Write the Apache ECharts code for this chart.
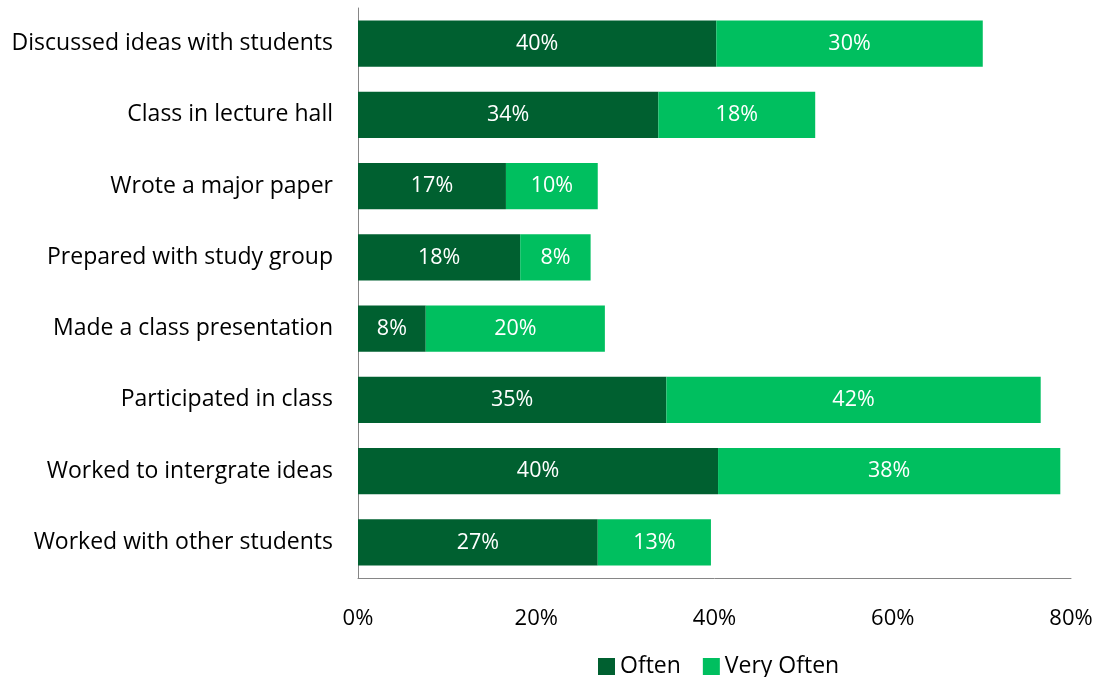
<!DOCTYPE html>
<html>
<head>
<meta charset="utf-8">
<script src="https://cdn.jsdelivr.net/npm/echarts@6/dist/echarts.min.js"></script>
<style>html,body{margin:0;padding:0;background:#fff}#c{width:1105px;height:677px}</style>
</head>
<body>
<div id="c"></div>
<script>
const categories = ["Discussed ideas with students","Class in lecture hall","Wrote a major paper","Prepared with study group","Made a class presentation","Participated in class","Worked to intergrate ideas","Worked with other students"];
const often = [40.2, 33.7, 16.6, 18.2, 7.6, 34.6, 40.4, 26.9];
const veryOften = [29.9, 17.6, 10.3, 7.9, 20.1, 42.0, 38.4, 12.7];
const xTicks = [0, 20, 40, 60, 80];

const FONT = "'Open Sans', sans-serif";
const chart = echarts.init(document.getElementById('c'));
const lbl = {show:true, position:'inside', color:'#fff', fontFamily:FONT, fontSize:21.5, formatter:p=>Math.round(p.value)+'%'};
chart.setOption({
  animation:false,
  grid:{left:358, right:34, top:8, bottom:99, containLabel:false},
  legend:{top:650, left:593, itemWidth:17, itemHeight:17, itemGap:22, icon:'rect',
    textStyle:{fontFamily:FONT, fontSize:23, color:'#000'}, data:['Often','Very Often']},
  xAxis:{type:'value', min:0, max:80, interval:20,
    axisLine:{show:true, lineStyle:{color:'#868686'}}, axisTick:{show:false}, splitLine:{show:false},
    axisLabel:{margin:30, fontFamily:FONT, fontSize:22, color:'#000', formatter:v=>v+'%'}},
  yAxis:{type:'category', inverse:true, data:categories,
    axisLine:{show:true, lineStyle:{color:'#868686'}}, axisTick:{show:false},
    axisLabel:{margin:25, fontFamily:FONT, fontSize:23, color:'#000'}},
  series:[
    {name:'Often', type:'bar', stack:'a', data:often, barCategoryGap:'35%', itemStyle:{color:'#006030'}, label:lbl},
    {name:'Very Often', type:'bar', stack:'a', data:veryOften, barCategoryGap:'35%', itemStyle:{color:'#00BF5F'}, label:lbl}
  ]
});
</script>
</body>
</html>
